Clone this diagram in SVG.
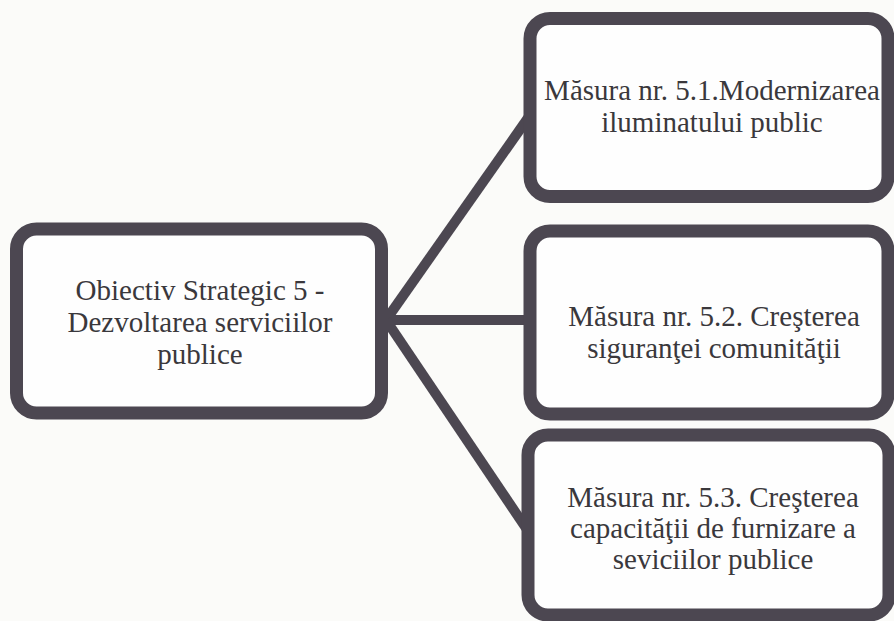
<svg xmlns="http://www.w3.org/2000/svg" width="894" height="621" viewBox="0 0 894 621">
<style>
.box{fill:#fefefe;stroke:#4c4751;stroke-width:13}
.conn{stroke:#4c4751;stroke-width:10;fill:none}
text{font-family:"Liberation Serif","Times New Roman",serif;font-size:29px;fill:#3a383c;text-anchor:middle}
</style>
<rect width="894" height="621" fill="#fbfbf9"/>
<g id="connectors">
<line class="conn" x1="386" y1="320" x2="528" y2="118"/>
<line class="conn" x1="386" y1="320" x2="528" y2="320"/>
<line class="conn" x1="386" y1="320" x2="526" y2="528"/>
</g>
<g id="objective">
<rect class="box" x="16.5" y="229" width="365" height="184" rx="20"/>
<text x="200" y="300">Obiectiv Strategic 5 -</text>
<text x="200" y="332">Dezvoltarea serviciilor</text>
<text x="200" y="364">publice</text>
</g>
<g id="masura51">
<rect class="box" x="530" y="18.5" width="358" height="178" rx="20"/>
<text x="712" y="100">Măsura nr. 5.1.Modernizarea</text>
<text x="712" y="132">iluminatului public</text>
</g>
<g id="masura52">
<rect class="box" x="530" y="231" width="358" height="183" rx="20"/>
<text x="714" y="326">Măsura nr. 5.2. Creşterea</text>
<text x="714" y="358">siguranţei comunităţii</text>
</g>
<g id="masura53">
<rect class="box" x="528" y="435" width="361" height="180" rx="20"/>
<text x="713" y="507">Măsura nr. 5.3. Creşterea</text>
<text x="713" y="538">capacităţii de furnizare a</text>
<text x="713" y="569">seviciilor publice</text>
</g>
</svg>
